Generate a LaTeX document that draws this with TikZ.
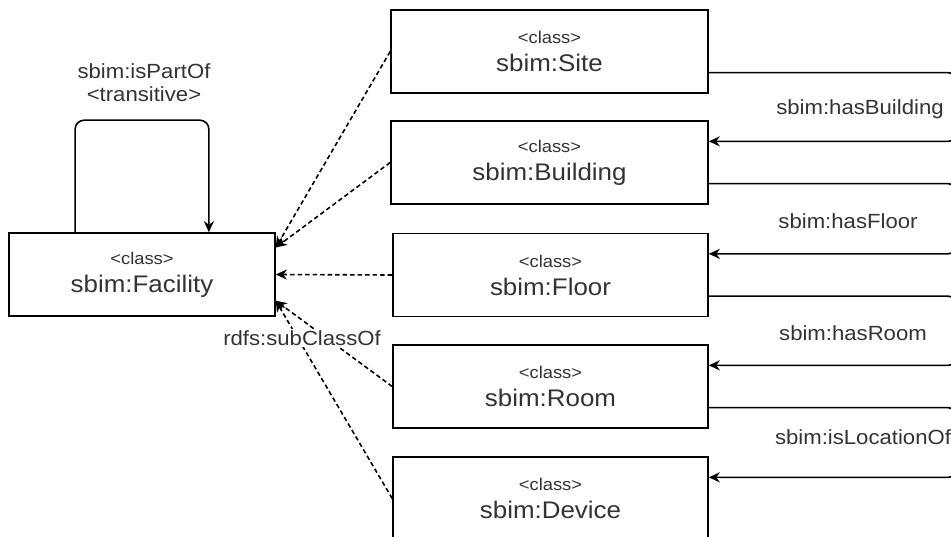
\documentclass[tikz,border=0pt]{standalone}
\usepackage{fontspec}
\setmainfont{Liberation Sans}[FakeStretch=1.08]
\usetikzlibrary{arrows.meta,calc}
\definecolor{txt}{HTML}{333333}
\newcommand{\stereofont}{\fontsize{17}{20}\selectfont}
\begin{document}
\begin{tikzpicture}[x=1pt,y=-1pt,
  cls/.style={draw=black,line width=1.6pt,fill=white,minimum height=83pt,
    inner sep=0pt,align=center,text=txt,font=\fontsize{24}{28}\selectfont},
  rel/.style={draw=black,line width=1.6pt,rounded corners=7pt,
    -{Stealth[length=11pt,width=10pt,inset=3.5pt]}},
  sub/.style={rel,dash pattern=on 4.5pt off 3pt,rounded corners=0pt},
  lbl/.style={text=txt,inner sep=1pt,font=\fontsize{20.5}{23}\selectfont,align=center}]
\useasboundingbox (0,0) rectangle (951,537);
\clip (0,0) rectangle (951,537);

% classes
\node[cls,minimum width=266pt] (fac) at (142,274.5) {{\stereofont <class>}\\sbim:Facility};
\node[cls,minimum width=317pt] (site) at (549.5,51.5) {{\stereofont <class>}\\sbim:Site};
\node[cls,minimum width=317pt] (bld) at (549.5,162.5) {{\stereofont <class>}\\sbim:Building};
\node[cls,minimum width=315pt] (flr) at (550.5,275) {{\stereofont <class>}\\sbim:Floor};
\node[cls,minimum width=315pt] (room) at (550.5,386.5) {{\stereofont <class>}\\sbim:Room};
\node[cls,minimum width=315pt] (dev) at (550.5,498.5) {{\stereofont <class>}\\sbim:Device};

% transitive self relation on Facility
\coordinate (loopA) at ($(fac.north west)!0.25!(fac.north east)$);
\coordinate (loopB) at ($(fac.north west)!0.75!(fac.north east)$);
\draw[rel,rounded corners=9pt] (loopA) -- ++(0,-112) -| (loopB);
\node[lbl] (partof) at (144,83) {sbim:isPartOf\\<transitive>};

% subclass relations
\coordinate (facHi) at ($(fac.north east)!0.18!(fac.south east)$);
\coordinate (facMid) at (fac.east);
\coordinate (facLo) at ($(fac.north east)!0.81!(fac.south east)$);
\draw[sub] (site.west) -- (facHi);
\draw[sub] (bld.west) -- (facHi);
\draw[sub] (flr.west) -- (facMid);
\draw[sub] (room.west) -- (facLo);
\draw[sub] (dev.west) -- (facLo);
\node[lbl,fill=white] (subcl) at (302,338) {rdfs:subClassOf};

% containment relations on the right
\coordinate (rail) at (955,0);
\foreach \a/\b in {site/bld,bld/flr,flr/room,room/dev}{
  \coordinate (\a-out) at ($(\a.north east)!0.75!(\a.south east)$);
  \coordinate (\b-in) at ($(\b.north east)!0.25!(\b.south east)$);
  \draw[rel] (\a-out) -- (\a-out -| rail) -- (\b-in -| rail) -- (\b-in);
}
\node[lbl] (hasb) at (860,109) {sbim:hasBuilding};
\node[lbl] (hasf) at (848,221) {sbim:hasFloor};
\node[lbl] (hasr) at (853,333) {sbim:hasRoom};
\node[lbl] (locof) at (863,437) {sbim:isLocationOf};
\end{tikzpicture}
\end{document}
